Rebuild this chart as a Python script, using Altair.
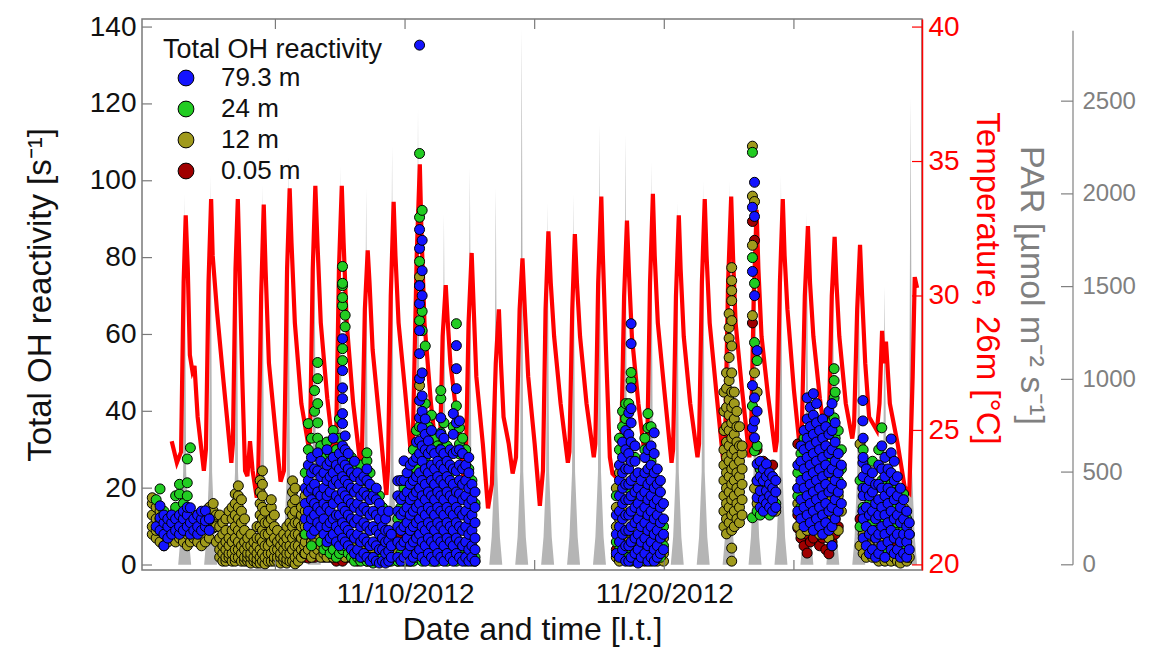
import altair as alt
import pandas as pd

W, H = 780, 551

# ---------------- axes / scales ----------------
X_DOMAIN = [-0.146, 29.94]          # days; 1.0 = 11/01/2012 00:00
OH_DOMAIN = [-1.3, 142.1]
T_DOMAIN = [19.81, 40.30]
PAR_DOMAIN = [-28, 2943]

OH_TICKS = [0, 20, 40, 60, 80, 100, 120, 140]
T_TICKS = [20, 25, 30, 35, 40]
PAR_TICKS = [0, 500, 1000, 1500, 2000, 2500]
X_TICKS = [5, 10, 15, 20, 25]
X_LABELS = {10: "11/10/2012", 20: "11/20/2012"}
PAR_AXIS_TOP = 2880

HEIGHTS = ["79.3 m", "24 m", "12 m", "0.05 m"]
COLORS = ["#1414ff", "#22cc22", "#a09a1c", "#a00000"]

# ---------------- PAR (daily peaks, typical flank) ----------------
PAR_DAYS = list(range(1, 30))
PAR_PEAK = [2000, 2100, 2000, 2050, 2200, 2050, 2150, 2030, 2260, 2455,
            1890, 2140, 2030, 2890, 1950, 2000, 2375, 2320, 2175, 1960,
            2070, 2070, 2000, 2100, 1900, 1800, 1700, 1500, 2520]
PAR_FLANK_HOURS = [6, 8.2, 10.6, 12, 13.4, 15.8, 18]
PAR_FLANK_VALUES = [0, 150, 500, None, 500, 150, 0]

# ---------------- Temperature 26 m ----------------
TEMP_T = [1.00, 1.20, 1.36, 1.46, 1.54, 1.62, 1.70, 1.80, 1.88, 2.00, 2.24,
          2.32, 2.42, 2.52, 2.58, 2.75, 3.00, 3.30,
          3.36, 3.46, 3.55, 3.62, 3.72, 3.83, 3.92, 4.02, 4.12, 4.28,
          4.34, 4.45, 4.55, 4.62, 4.75, 5.00, 5.20,
          5.33, 5.45, 5.55, 5.62, 5.75, 6.00, 6.28,
          6.34, 6.44, 6.54, 6.62, 6.75, 7.00, 7.28,
          7.34, 7.45, 7.56, 7.63, 7.75, 8.00, 8.28,
          8.34, 8.45, 8.56, 8.63, 8.75, 9.00, 9.28,
          9.34, 9.45, 9.56, 9.63, 9.75, 10.00, 10.20,
          10.30, 10.45, 10.57, 10.63, 10.75, 11.00, 11.28,
          11.34, 11.45, 11.57, 11.65, 11.75, 12.00, 12.28,
          12.34, 12.45, 12.57, 12.65, 12.75, 13.00, 13.20,
          13.35, 13.50, 13.62, 13.70, 13.80, 14.00, 14.15,
          14.28, 14.42, 14.53, 14.62, 14.75, 15.00, 15.20,
          15.32, 15.42, 15.53, 15.62, 15.75, 16.00, 16.28,
          16.34, 16.45, 16.55, 16.63, 16.75, 17.00, 17.28,
          17.34, 17.45, 17.57, 17.63, 17.75, 17.90, 18.00, 18.20, 18.32,
          18.45, 18.56, 18.63, 18.75, 19.00, 19.28,
          19.34, 19.45, 19.56, 19.63, 19.75, 20.00, 20.28,
          20.34, 20.45, 20.56, 20.63, 20.75, 21.00, 21.28,
          21.34, 21.45, 21.56, 21.63, 21.75, 22.00, 22.28,
          22.34, 22.46, 22.58, 22.65, 22.75, 23.00, 23.28,
          23.34, 23.45, 23.56, 23.63, 23.75, 24.00, 24.28,
          24.34, 24.46, 24.57, 24.64, 24.75, 25.00, 25.20,
          25.30, 25.42, 25.54, 25.62, 25.75, 26.00, 26.22,
          26.34, 26.46, 26.57, 26.64, 26.75, 27.00, 27.25,
          27.32, 27.44, 27.55, 27.63, 27.75, 27.90, 28.20,
          28.30, 28.40, 28.47, 28.55, 28.70, 28.90, 29.00, 29.27, 29.45,
          29.58, 29.66, 29.75]
TEMP_V = [24.6, 23.8, 24.2, 30.5, 33.0, 31.0, 27.8, 27.2, 27.4, 25.5, 23.5,
          24.3, 30.5, 33.6, 31.5, 29.4, 26.8, 23.8,
          24.5, 31.0, 33.6, 31.0, 27.0, 23.5, 23.3, 24.6, 23.5, 22.5,
          23.5, 30.0, 33.4, 31.0, 27.5, 25.0, 23.1,
          23.5, 31.0, 34.0, 32.0, 29.0, 26.0, 24.4,
          25.0, 31.0, 34.1, 32.0, 29.0, 26.2, 23.8,
          24.5, 31.0, 34.1, 32.0, 29.0, 26.0, 23.7,
          24.3, 29.5, 31.7, 30.5, 28.0, 25.5, 22.6,
          23.5, 30.0, 33.5, 31.5, 29.0, 26.5, 24.4,
          24.6, 31.5, 34.9, 32.5, 29.0, 26.0, 23.5,
          24.0, 28.5, 30.4, 29.0, 27.5, 25.5, 23.0,
          23.5, 29.0, 31.6, 29.5, 27.0, 24.5, 22.1,
          23.0, 27.5, 29.5, 27.5, 25.5, 24.5, 23.4,
          24.0, 29.5, 31.4, 29.5, 27.0, 24.5, 22.2,
          23.5, 29.5, 32.4, 30.5, 28.5, 26.0, 23.8,
          24.2, 29.5, 32.3, 30.5, 28.5, 26.0, 24.0,
          24.5, 30.5, 33.7, 31.5, 28.0, 24.0, 23.4, 23.2, 23.6,
          30.0, 32.8, 31.0, 28.5, 26.0, 23.8,
          24.3, 30.5, 33.8, 31.5, 29.0, 26.5, 23.8,
          24.3, 30.0, 33.0, 31.0, 28.5, 26.0, 24.0,
          24.5, 30.5, 33.6, 31.5, 29.0, 26.5, 23.8,
          24.3, 30.5, 33.7, 31.5, 29.0, 26.5, 24.0,
          24.5, 30.0, 33.2, 31.0, 28.5, 26.3, 24.2,
          24.6, 30.5, 33.6, 31.5, 29.5, 26.5, 24.6,
          24.8, 30.0, 32.6, 30.5, 28.5, 26.2, 24.6,
          25.0, 30.0, 32.2, 30.5, 28.5, 26.0, 24.7,
          25.2, 29.5, 31.9, 30.0, 27.5, 25.5, 25.0,
          26.0, 28.7, 27.5, 28.3, 26.0, 25.0, 24.5, 22.9, 22.7,
          27.0, 30.7, 30.3]

# ---------------- Total OH reactivity: (time, [values]) ----------------
BLUE = [  # 79.3 m
    (0.40, [10]), (0.55, [15.4, 12.3, 9]), (0.70, [5, 8, 11, 13]), (0.85, [7, 10, 12]),
    (1.00, [8, 11, 13]), (1.15, [9, 12]), (1.30, [8, 10, 13]), (1.45, [9, 12, 14]),
    (1.60, [10, 13, 15]), (1.72, [8, 11, 14.9]), (1.85, [9, 12]), (2.00, [8, 10, 13]),
    (2.15, [9, 12, 14]), (2.30, [10, 11.5, 14.1]), (2.45, [9, 12]),
    (6.15, [12, 16, 20]), (6.27, [10, 14, 19, 22, 26]), (6.39, [8, 12, 17, 20, 24, 28]),
    (6.51, [9, 13, 16, 21, 25]), (6.63, [11, 15, 19, 24.5, 29.2]), (6.75, [10, 14, 18, 23, 27]),
    (6.87, [8, 12, 16, 20, 24]), (6.99, [6, 10, 15, 18, 22, 26, 30]), (7.11, [7, 11, 14, 19, 23, 27]),
    (7.23, [8, 12, 16, 21, 24, 28, 33]), (7.35, [6, 10, 13, 18, 22, 26]), (7.47, [5, 9, 13, 17, 21, 25, 29]),
    (7.59, [7, 11, 15, 19, 23, 27, 31, 36.8, 39.4, 43.3, 46.1, 50.6, 58.9]),
    (7.69, [6, 10, 14, 18, 22, 26, 30, 33.6]), (7.81, [5, 9, 13, 17, 21, 25, 29]),
    (7.93, [4, 8, 12, 16, 20, 24]), (8.05, [3, 7, 11, 15, 19, 23, 27]), (8.17, [4, 8, 12, 16, 20, 24]),
    (8.29, [2, 6, 10, 14, 18, 22]), (8.41, [3, 7, 11, 15, 19, 23]), (8.53, [2, 6, 10, 14, 18, 22, 25]),
    (8.65, [1, 5, 9, 13, 17, 21]), (8.77, [2, 6, 10, 14, 18]), (8.89, [1, 5, 9, 13, 17, 20]),
    (9.01, [0.5, 4, 8, 12, 16]), (9.13, [1, 4, 7, 10, 14]), (9.25, [0.5, 3, 6, 9, 12]),
    (9.37, [1, 3.6, 6.3, 9, 14]), (9.47, [2, 5, 8]),
    (9.72, [2, 6, 10, 14, 18, 21.9]), (9.84, [1, 5, 9, 13, 17, 22]), (9.96, [2, 6, 10, 14, 18, 22, 27.1]),
    (10.08, [3, 7, 11, 15, 19, 24]), (10.20, [1, 5, 9, 13, 17, 21, 26]), (10.32, [2, 6, 10, 14, 18, 22, 27]),
    (10.44, [3, 7, 11, 15, 19, 23, 28, 32]),
    (10.56, [4, 8, 12, 16, 20, 24, 29, 32.3, 38.3, 42.8, 48.5, 55, 61, 68, 72.7, 82.4, 87.3, 135.3]),
    (10.66, [2, 6, 10, 14, 18, 22, 27, 31, 35.7, 40, 44, 50, 70.1, 76.6, 84.5]),
    (10.78, [1, 5, 9, 13, 17, 21, 25, 30, 34, 38]), (10.90, [3, 7, 11, 15, 19, 24, 29, 32.3]),
    (11.02, [2, 6, 10, 14, 18, 22, 26, 30, 35]), (11.14, [1, 5, 9, 13, 17, 21, 25, 29]),
    (11.26, [3, 7, 11, 15, 19, 23, 27]), (11.38, [2, 6, 10, 14, 18, 22, 26, 30, 34, 38.3]),
    (11.50, [1, 5, 9, 13, 17, 21, 25, 29, 33]), (11.62, [3, 7, 11, 15, 19, 23, 27]),
    (11.74, [2, 6, 10, 14, 18, 22, 26, 30]), (11.86, [1, 5, 9, 13, 17, 21, 25, 29, 34, 39.4]),
    (11.98, [3, 7, 11, 15, 19, 24.5, 29.7, 37, 45.9, 51.1, 57.1]),
    (12.10, [2, 6, 10, 14, 18.5, 22, 26, 30, 37.5]), (12.22, [1, 5, 9, 13, 17, 21, 25, 29]),
    (12.34, [2, 6, 10, 14, 18, 22, 26]), (12.46, [1, 4, 8, 12, 16, 20, 24, 28]),
    (12.58, [2, 5, 9, 13, 17, 21]), (12.70, [1, 4, 7, 11, 15, 19]),
    (18.15, [3, 8, 13]), (18.27, [2, 6, 10, 14, 18, 22, 26]), (18.39, [4, 8, 12, 16, 20, 24, 28, 32]),
    (18.51, [1, 5, 9, 13, 17, 21, 25, 30, 35]), (18.63, [1, 5, 9, 13, 17, 21, 25, 29, 34, 39.6]),
    (18.72, [2, 6, 10, 14, 18, 22, 27, 32, 37, 40.7, 46.1, 57.6, 62.8]),
    (18.87, [3, 7, 11, 15, 19, 23, 27, 31]), (18.99, [0.5, 4, 8, 12, 16, 20, 24]),
    (19.11, [2, 6, 10, 14, 18, 22]), (19.25, [3, 7, 11, 15, 19, 24, 28]),
    (19.37, [1, 5, 9, 13, 17, 21, 25, 30]), (19.49, [2, 6, 10, 14, 18, 22, 26, 31]),
    (19.61, [1, 4, 8, 12, 16, 20, 24, 29, 34.4]), (19.73, [2, 5, 9, 13, 17, 21, 25]),
    (19.85, [3, 7, 11, 15, 19, 22]), (19.97, [4, 8, 12, 16]),
    (23.40, [93.1, 76.4, 46.7, 35.7]), (23.48, [99.6, 90.7, 70.1, 43.5, 37.5, 33.1]),
    (23.58, [55.8, 40, 26.3, 21.9, 17.5]), (23.70, [15, 19.3, 23, 27]), (23.82, [14, 17, 21.9, 25]),
    (23.94, [16, 19.3, 23, 26.3]), (24.06, [15, 18, 21, 24]), (24.18, [14, 17, 20, 23]),
    (24.30, [15, 19, 22]),
    (25.15, [14, 20, 26]), (25.27, [12, 17, 22, 27, 31]), (25.39, [10, 15, 20, 25, 30, 35]),
    (25.51, [13, 18, 23, 28, 33, 38, 43.5]), (25.63, [11, 16, 21, 26, 31, 36, 41]),
    (25.75, [9, 14, 19, 24, 29, 34, 39, 44.6]), (25.87, [12, 17, 22, 27, 32, 37, 42]),
    (25.99, [10, 15, 20, 25, 30, 35]), (26.11, [8, 13, 18, 23, 28, 33, 38]),
    (26.23, [11, 16, 21, 26, 31, 36]), (26.35, [9, 14, 19, 24, 29, 34, 40]),
    (26.47, [5, 10, 15, 20, 25, 30, 35, 42]), (26.59, [12, 17, 22, 27, 32, 37]),
    (26.71, [14, 19, 24, 29]), (26.83, [16, 21, 26]),
    (27.66, [42.8, 37.5, 26.6, 20, 14]), (27.67, [33, 28, 23, 18, 12, 7]), (27.79, [25, 20, 15, 10, 5]),
    (27.91, [22, 18, 13, 8, 3]), (28.03, [24, 19, 14, 9, 4]), (28.15, [21, 16, 12, 7, 2]),
    (28.27, [26, 21, 17, 13, 8, 3]), (28.39, [31, 25, 20, 15, 10, 5]), (28.51, [28, 23, 18, 13, 8, 2]),
    (28.63, [25, 20, 16, 11, 6]), (28.75, [32.8, 29.2, 24, 19, 14, 9, 4]), (28.87, [27, 22, 17, 12, 7, 3]),
    (28.99, [23, 18, 13, 8, 4]), (29.11, [20, 15, 11, 6, 2]), (29.23, [17, 12, 8, 3]),
    (29.35, [14, 10, 6, 2]), (29.45, [11, 8, 4]),
]

GREEN = [  # 24 m
    (0.40, [17]), (0.55, [19.8]), (0.70, [14]), (0.85, [11]), (1.00, [9]), (1.15, [15, 18]),
    (1.30, [18.5, 21]), (1.45, [16]), (1.60, [27.6, 21.4, 18]), (1.72, [30.5]), (1.85, [12]),
    (2.00, [10]), (2.15, [11]), (2.30, [13]), (2.45, [12]),
    (6.15, [8, 24]), (6.27, [30, 36.8]), (6.39, [5, 33]), (6.51, [40, 45.4]),
    (6.63, [52.7, 48.5, 42, 37, 33]), (6.75, [31, 6]), (6.87, [28, 4]), (6.99, [5, 32]),
    (7.11, [3, 29]), (7.23, [4, 35]), (7.35, [2, 30]), (7.47, [3, 33, 38]),
    (7.59, [53.2, 56.3, 67.5, 69.6, 72.7, 77.7, 73.3, 4]), (7.69, [5, 62, 65]),
    (7.81, [3, 27]), (7.93, [2, 28]), (8.05, [1, 25]), (8.17, [2, 23]), (8.29, [1, 26]),
    (8.41, [2, 22]), (8.53, [1, 27.1, 29.2]), (8.65, [2, 24]), (8.77, [0.5, 20]), (8.89, [2]),
    (9.01, [1, 18]), (9.13, [2, 15]), (9.25, [1]), (9.37, [2]), (9.47, [1]),
    (9.72, [1, 12]), (9.84, [3, 15]), (9.96, [1, 20]), (10.08, [2, 17]), (10.20, [2, 23]),
    (10.32, [1, 19, 30]), (10.44, [2, 25, 35]), (10.56, [3, 36, 63.6, 72.7, 79, 90.5, 107.1]),
    (10.66, [61, 92.3, 66, 1]), (10.78, [4, 28, 42, 57]), (10.90, [2, 26, 36]),
    (11.02, [1, 24, 39]), (11.14, [2, 20, 33]), (11.26, [1, 18, 31]),
    (11.38, [3, 30.2, 34.4, 43.3, 45.4]), (11.50, [2, 28, 37]), (11.62, [1, 31]),
    (11.74, [4, 24]), (11.86, [2, 36]), (11.98, [1, 41.4, 62.8]), (12.10, [3, 35.7, 31.5, 28.9]),
    (12.22, [2, 33]), (12.34, [1, 30]), (12.46, [2, 25]), (12.58, [1, 22]), (12.70, [2, 16]),
    (18.15, [6, 18]), (18.27, [4, 30, 33]), (18.39, [2, 36, 40]), (18.51, [3, 42, 38.1]),
    (18.63, [42, 2, 20]), (18.72, [48, 50.1, 1]), (18.87, [1, 28]), (18.99, [2, 18]),
    (19.11, [1, 15]), (19.25, [2, 30, 33]), (19.37, [3, 35.7, 39.4]), (19.49, [1, 27, 36]),
    (19.61, [2, 22]), (19.73, [3, 18, 8]), (19.85, [2, 12, 6]), (19.97, [5, 10]),
    (23.40, [107.4, 80, 41.4, 12.3]), (23.48, [73.3, 57.9, 29.7]), (23.58, [53.2, 31, 14]),
    (23.70, [13, 25]), (23.82, [16, 24]), (23.94, [14, 20]), (24.06, [13, 22]), (24.18, [18]),
    (24.30, [16]),
    (25.15, [18, 24]), (25.27, [15, 29]), (25.39, [22, 33]), (25.51, [20, 30]), (25.63, [25, 35]),
    (25.75, [18, 28]), (25.87, [21, 31, 36]), (25.99, [16, 26]), (26.11, [22, 30]), (26.23, [19, 34]),
    (26.35, [27, 37]), (26.55, [38.3, 43.5, 48, 51.1, 24]), (26.59, [33, 29, 45]), (26.71, [22, 35]),
    (26.83, [25, 30]),
    (27.55, [22, 10]), (27.67, [30, 15]), (27.79, [19, 12]), (27.91, [16, 24]), (28.03, [27, 11]),
    (28.15, [20, 9]), (28.27, [14, 30]), (28.39, [35.7, 22, 3]), (28.51, [17, 12]), (28.63, [14, 4]),
    (28.75, [21, 7]), (28.87, [16, 10]), (28.99, [11, 19]), (29.11, [13, 4]), (29.23, [18.5, 9]),
    (29.35, [12, 5]), (29.45, [8]),
]

OLIVE = [  # 12 m
    (0.25, [8, 10, 13, 16, 17.5]), (0.40, [7, 9, 12, 15]), (0.55, [6, 9, 12, 14]), (0.70, [5, 8, 11]),
    (0.85, [6, 10]), (1.00, [7, 9]), (1.15, [6, 10, 14]), (1.30, [7, 11]), (1.45, [6, 9]),
    (1.60, [5, 8, 12]), (1.72, [6, 10]), (1.85, [7, 11]), (2.00, [6, 9, 13]), (2.15, [5, 8, 11]),
    (2.30, [6, 10]), (2.45, [7, 12, 15]), (2.60, [9.6, 12, 14.1, 16]), (2.72, [6, 10, 13]),
    (2.85, [2, 4, 7, 10, 13]), (2.97, [1, 3, 5, 8, 11]), (3.09, [1, 2, 4, 6, 9, 12]),
    (3.21, [2, 3, 5, 7, 14]), (3.33, [1, 3, 6, 9, 12, 15]), (3.45, [1, 2, 4, 7, 10, 13, 16, 18.5]),
    (3.57, [2, 4, 6, 9, 12, 15, 18, 20.6]), (3.69, [1, 3, 5, 8, 11, 14, 17]),
    (3.81, [1, 2, 4, 6, 9, 12]), (3.93, [1, 2, 3, 5, 7]), (4.05, [0.5, 2, 3, 5, 8]),
    (4.17, [1, 2, 4, 6]), (4.29, [0.5, 1.5, 3, 5, 7, 10]), (4.41, [0.5, 2, 4, 7, 10, 13, 16, 19, 22]),
    (4.50, [1, 3, 6, 9, 12, 15, 18, 21, 24.5]), (4.60, [0.3, 2, 5, 8, 11, 14]),
    (4.72, [1, 3, 5, 8, 11]), (4.84, [1, 3, 6, 9, 12, 15, 17]), (4.96, [1, 2, 4, 7, 10, 13]),
    (5.08, [1, 2, 4, 6, 9]), (5.20, [0.5, 2, 3, 5, 7]), (5.32, [1, 2, 4, 6, 8]),
    (5.44, [0.5, 1.5, 3, 5, 7, 10]), (5.56, [1, 3, 5, 8, 11, 14]),
    (5.66, [1, 4, 7, 10, 13, 16, 19, 21.9]), (5.76, [0.3, 2, 5, 8, 11, 14, 17, 20]),
    (5.88, [1, 2.9, 5, 8, 11]), (6.00, [2, 4, 7, 10, 13, 15]), (6.12, [3, 5, 8, 11]),
    (6.15, [3, 6, 10, 14, 18]), (6.27, [4, 8, 12]), (6.39, [2, 6, 10]), (6.51, [3, 7]),
    (6.63, [4, 8]), (6.75, [2, 5]), (6.87, [3, 9]), (6.99, [2, 7]), (7.11, [5]), (7.23, [2, 9]),
    (7.35, [4]), (7.47, [6]), (7.59, [3]), (7.69, [2]), (7.81, [4]), (7.93, [5]), (8.05, [2]),
    (8.17, [3]), (8.29, [4]), (8.53, [3]), (8.77, [3]), (9.01, [3]), (9.25, [2]),
    (9.72, [3]), (9.84, [2]), (9.96, [4]), (10.08, [1, 5]), (10.20, [3]), (10.32, [4, 8]),
    (10.44, [5, 20]), (10.56, [46.7, 75, 2]), (10.66, [6, 30]), (10.78, [3]), (10.90, [5]),
    (11.02, [4]), (11.14, [3, 8]), (11.26, [5]), (11.38, [2]), (11.50, [4]), (11.62, [3]),
    (11.74, [5]), (11.86, [3]), (11.98, [4]), (12.10, [5]), (12.22, [4]), (12.34, [3]),
    (12.46, [4]), (12.58, [3]),
    (18.15, [2, 10, 15, 20]), (18.27, [1, 12, 24]), (18.39, [5, 14]), (18.51, [7]), (18.63, [6]),
    (18.72, [4]), (18.87, [3]), (18.99, [5]), (19.11, [3]), (19.25, [4]), (19.37, [6]),
    (19.49, [3]), (19.61, [5]), (19.73, [1, 4]), (19.85, [2, 5]), (19.97, [1, 3, 7]),
    (22.30, [10, 14, 18, 22, 26, 30, 35, 40, 45]),
    (22.40, [8.1, 12, 16, 20, 24, 28, 32, 36, 41, 46, 50]),
    (22.50, [11, 15, 19, 23, 27, 31, 35, 39, 43, 48, 54, 59, 61.8, 65.4]),
    (22.60, [1.0, 4.4, 9, 13, 17, 21, 25, 29, 33, 37, 41, 45, 50, 57, 63.6, 68.8, 71.4, 74, 77.4]),
    (22.70, [10, 14, 18, 22, 26, 30, 34, 38, 42, 45]),
    (22.80, [12, 16, 20, 24, 28, 32, 36, 40]),
    (22.90, [11, 15, 19, 23, 27, 31, 36]), (23.00, [13, 17, 21, 25, 29, 31]),
    (23.40, [109, 96, 83.2, 64.9]), (23.48, [94.6, 50, 20]), (23.58, [45, 22, 16]),
    (23.70, [18, 22]), (23.82, [19, 15]), (23.94, [17]), (24.06, [16]), (24.18, [15]), (24.30, [14]),
    (25.15, [10, 16]), (25.27, [8, 19]), (25.39, [12, 25]), (25.51, [9, 14]), (25.63, [15, 22]),
    (25.75, [11]), (25.87, [13, 24]), (25.99, [8, 18]), (26.11, [12, 20]), (26.23, [9, 15]),
    (26.35, [7, 17, 23]), (26.47, [5, 13, 21.9]), (26.59, [16, 20]), (26.71, [18, 9]), (26.83, [14]),
    (27.55, [31.5, 5]), (27.67, [8, 3]), (27.79, [2, 7]), (27.91, [5]), (28.03, [2]), (28.15, [4]),
    (28.27, [1]), (28.39, [6]), (28.51, [1]), (28.63, [2]), (28.75, [1]), (28.87, [2]),
    (28.99, [3, 1]), (29.11, [0.5]), (29.23, [14.9, 2]), (29.35, [1]), (29.45, [2]),
]

RED = [  # 0.05 m
    (6.15, [2]), (6.27, [1.8, 5]), (6.39, [3]), (6.51, [2, 6]), (6.63, [2.9]), (6.75, [3, 7]),
    (6.87, [2]), (6.99, [4]), (7.11, [2, 6]), (7.23, [3]), (7.35, [1]), (7.47, [2, 5]),
    (7.59, [1]), (7.69, [3]), (7.81, [2, 6]), (7.93, [3]), (8.05, [4, 7]), (8.17, [1]),
    (8.29, [2, 5]), (8.41, [3]), (8.53, [1]), (8.65, [4]), (8.77, [2]), (8.89, [5]),
    (9.01, [2]), (9.13, [3]), (9.37, [1]),
    (9.72, [1, 5]), (9.84, [4, 8]), (9.96, [2, 6]), (10.08, [3, 7]), (10.20, [1, 5]),
    (10.32, [2, 9]), (10.44, [29.7, 4]), (10.56, [6]), (10.66, [3]), (10.78, [7]), (10.90, [2]),
    (11.02, [6]), (11.14, [1]), (11.26, [4]), (11.38, [2]), (11.50, [5]), (11.62, [2]),
    (11.74, [7]), (11.86, [3]), (11.98, [2]), (12.10, [6]), (12.22, [3]), (12.34, [5]),
    (12.46, [2]), (12.58, [4]), (12.70, [1]),
    (18.15, [4]), (18.27, [3, 7]), (18.39, [2, 9]), (18.51, [4, 8]), (18.63, [5, 2]), (18.72, [3]),
    (18.87, [7]), (18.99, [2]), (19.11, [6]), (19.25, [1]), (19.37, [4]), (19.49, [2]),
    (23.40, [89.4, 63]), (23.48, [84.5]), (23.58, [30]), (23.70, [25, 20]), (23.82, [27]),
    (23.94, [25]), (24.18, [26]),
    (25.15, [9.6, 13, 31.5, 20]), (25.27, [7, 11, 24]), (25.39, [5, 10, 17]), (25.51, [3.1, 8, 12]),
    (25.63, [6, 10]), (25.75, [7, 12]), (25.87, [9]), (25.99, [5, 11]), (26.11, [7, 10]),
    (26.23, [4, 8]), (26.35, [2.9, 11]), (26.47, [6, 9]), (26.59, [8, 12]), (26.71, [10]),
    (27.55, [12]), (27.67, [9, 14]), (27.79, [11]), (27.91, [6]), (28.15, [8]), (28.51, [10]),
    (28.87, [5]),
]

# ---------------- build tables ----------------
par_rows = []
for d, pk in zip(PAR_DAYS, PAR_PEAK):
    for hr, val in zip(PAR_FLANK_HOURS, PAR_FLANK_VALUES):
        par_rows.append({"t": d + hr / 24.0, "par": pk if val is None else val})
par_df = pd.DataFrame(par_rows)

temp_df = pd.DataFrame({"t": TEMP_T, "temp": TEMP_V})

oh_rows = []
for z, (name, series) in enumerate([("0.05 m", RED), ("12 m", OLIVE), ("24 m", GREEN), ("79.3 m", BLUE)]):
    for t, vals in series:
        for v in vals:
            oh_rows.append({"t": t, "oh": v, "height": name, "z": z})
oh_df = pd.DataFrame(oh_rows)

oh_tick_df = pd.DataFrame({"oh": OH_TICKS})
t_tick_df = pd.DataFrame({"temp": T_TICKS})
par_tick_df = pd.DataFrame({"par": PAR_TICKS})
par_dom_df = pd.DataFrame({"par": [0], "par2": [PAR_AXIS_TOP]})
x_tick_df = pd.DataFrame({"t": X_TICKS})

FONT = "Liberation Sans"
FRAME = "#7a7a7a"
PARC = "#808080"
PAR_OFF = 151

label_expr = " : ".join(
    [f"datum.value == {k} ? '{v}'" for k, v in X_LABELS.items()]) + " : ''"

x_scale = alt.Scale(domain=X_DOMAIN, nice=False, zero=False)
x_axis = alt.Axis(title="Date and time [l.t.]", values=list(X_LABELS.keys()), labelExpr=label_expr,
                  ticks=False, domain=False, grid=False, labelFontSize=28, titleFontSize=32,
                  titleFontWeight="normal", labelColor="#111", titleColor="#111",
                  labelPadding=10, titlePadding=6, labelFlush=False)
X = alt.X("t:Q", scale=x_scale, axis=x_axis)

oh_scale = alt.Scale(domain=OH_DOMAIN, nice=False, zero=False)
t_scale = alt.Scale(domain=T_DOMAIN, nice=False, zero=False)
par_scale = alt.Scale(domain=PAR_DOMAIN, nice=False, zero=False)

oh_axis = alt.Axis(title="Total OH reactivity [s⁻¹]", orient="left", values=OH_TICKS, ticks=False,
                   domain=False, grid=False, labelFontSize=28, titleFontSize=33, titleFontWeight="normal",
                   labelColor="#111", titleColor="#111", labelPadding=6, titlePadding=32)
t_axis = alt.Axis(title="Temperature, 26m [°C]", orient="right", values=T_TICKS, ticks=False,
                  domain=True, domainColor="#ff0000", domainWidth=1.5, grid=False,
                  labelFontSize=28, titleFontSize=33, titleFontWeight="normal",
                  labelColor="#ff0000", titleColor="#ff0000", labelPadding=6, titlePadding=10,
                  titleY=259)
par_axis = alt.Axis(title="PAR [µmol m⁻² s⁻¹]", orient="right", offset=PAR_OFF, values=PAR_TICKS,
                    format="d", ticks=False, domain=False, grid=False, labelFontSize=24,
                    titleFontSize=34, titleFontWeight="normal", labelColor=PARC, titleColor=PARC,
                    labelPadding=9, titleX=-43, titleY=266, titleAngle=90, titleAlign="center",
                    titleBaseline="middle")

legend = alt.Legend(title="Total OH reactivity", orient="none", legendX=21, legendY=18,
                    titleFontSize=27, titleFontWeight="normal", titleColor="#111", labelFontSize=26,
                    labelColor="#111", symbolType="circle", symbolSize=250, symbolStrokeColor="black",
                    symbolStrokeWidth=1, symbolOpacity=1, symbolOffset=10, labelOffset=22,
                    rowPadding=5, titlePadding=1, titleLimit=500, labelLimit=300)

layers = [
    alt.Chart(par_df).mark_area(color="#b5b5b5", interpolate="linear").encode(
        x=X, y=alt.Y("par:Q", scale=par_scale, axis=par_axis), y2=alt.datum(0)),
    alt.Chart(par_tick_df).mark_rule(color=PARC, strokeWidth=1.2, clip=False).encode(
        x=alt.value(W + PAR_OFF - 12), x2=alt.value(W + PAR_OFF),
        y=alt.Y("par:Q", scale=par_scale, axis=None)),
    alt.Chart(par_dom_df).mark_rule(color=PARC, strokeWidth=1.2, clip=False).encode(
        x=alt.value(W + PAR_OFF), y=alt.Y("par:Q", scale=par_scale, axis=None), y2="par2:Q"),
    alt.Chart(temp_df).mark_line(color="#ff0000", strokeWidth=4.2).encode(
        x=X, y=alt.Y("temp:Q", scale=t_scale, axis=t_axis)),
    alt.Chart(t_tick_df).mark_rule(color="#ff0000", strokeWidth=1.2).encode(
        x=alt.value(W - 10), x2=alt.value(W), y=alt.Y("temp:Q", scale=t_scale, axis=None)),
    alt.Chart(oh_df).mark_circle(size=100, stroke="black", strokeWidth=1, opacity=1).encode(
        x=X, y=alt.Y("oh:Q", scale=oh_scale, axis=oh_axis),
        color=alt.Color("height:N", scale=alt.Scale(domain=HEIGHTS, range=COLORS), legend=legend),
        order=alt.Order("z:Q")),
    alt.Chart(oh_tick_df).mark_rule(color=FRAME, strokeWidth=1.2).encode(
        x=alt.value(0), x2=alt.value(10), y=alt.Y("oh:Q", scale=oh_scale, axis=None)),
    alt.Chart(x_tick_df).mark_rule(color=FRAME, strokeWidth=1.2).encode(
        x=X, y=alt.value(0), y2=alt.value(10)),
    alt.Chart(x_tick_df).mark_rule(color=FRAME, strokeWidth=1.2).encode(
        x=X, y=alt.value(H - 10), y2=alt.value(H)),
]

chart = alt.layer(*layers).resolve_scale(y="independent").properties(
    width=W, height=H, autosize=alt.AutoSizeParams(type="none"),
    padding={"left": 134, "top": 11, "right": 215, "bottom": 84},
).configure(font=FONT).configure_view(stroke=FRAME, strokeWidth=1.5)

chart.save("out.html", embed_options={"renderer": "svg", "actions": False})
